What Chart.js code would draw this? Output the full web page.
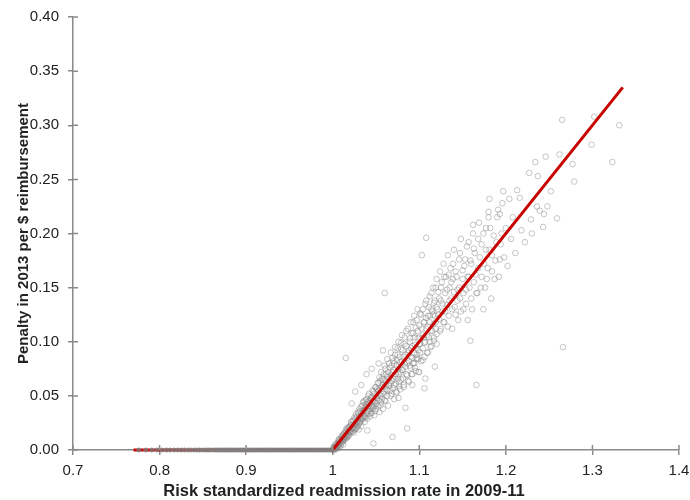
<!DOCTYPE html>
<html>
<head>
<meta charset="utf-8">
<script src="https://cdn.jsdelivr.net/npm/chart.js@4/dist/chart.umd.min.js"></script>
<style>
    html, body { margin: 0; padding: 0; background: #fff; }
    #wrap { width: 690px; height: 500px; }
</style>
</head>
<body>
<div id="wrap"><canvas id="penalty-chart"></canvas></div>
<script>
// Axis ticks
const rateTicks = [0.7, 0.8, 0.9, 1.0, 1.1, 1.2, 1.3, 1.4];
const penaltyTicks = [0, 0.05, 0.10, 0.15, 0.20, 0.25, 0.30, 0.35, 0.40];

// Penalty formula line (red)
const lineRates = [0.77, 1.0, 1.335];
const linePenalties = [0, 0, 0.335];

// Hospitals below 1.0 - no penalty
const zeroRates = [
    0.776, 0.784, 0.791, 0.797, 0.803, 0.808, 0.812, 0.817, 0.821, 0.825,
    0.829, 0.833, 0.836, 0.840, 0.843, 0.846, 0.849, 0.852, 0.855, 0.857,
    0.860, 0.863, 0.865, 0.867, 0.869, 0.871, 0.873, 0.875, 0.877, 0.879,
    0.881, 0.883, 0.885, 0.887, 0.889, 0.891, 0.893, 0.895, 0.897, 0.899,
    0.901, 0.903, 0.905, 0.907, 0.909, 0.911, 0.913, 0.915, 0.917, 0.919,
    0.921, 0.923, 0.925, 0.927, 0.929, 0.931, 0.933, 0.935, 0.937, 0.939,
    0.941, 0.943, 0.945, 0.947, 0.949, 0.951, 0.953, 0.955, 0.957, 0.959,
    0.961, 0.963, 0.965, 0.967, 0.969, 0.971, 0.973, 0.975, 0.977, 0.979,
    0.981, 0.983, 0.985, 0.987, 0.989, 0.991, 0.993, 0.995, 0.997, 0.999
];

// Hospitals above 1.0 - readmission rate / penalty pairs
const rates = [
    // 1.00 - 1.03
    1.001, 1.002, 1.003, 1.004, 1.005, 1.006, 1.006, 1.007, 1.008, 1.009,
    1.009, 1.010, 1.011, 1.011, 1.012, 1.013, 1.013, 1.014, 1.015, 1.015,
    1.016, 1.017, 1.017, 1.018, 1.018, 1.019, 1.020, 1.020, 1.004, 1.008,
    1.012, 1.016, 1.015,
    1.000, 1.001, 1.002, 1.003, 1.003, 1.004, 1.005, 1.005, 1.006, 1.007,
    1.007, 1.008, 1.009, 1.010, 1.010, 1.011, 1.012, 1.012, 1.013, 1.014,
    1.014, 1.015, 1.016, 1.016, 1.017, 1.018, 1.019, 1.019, 1.020, 1.021,
    1.021, 1.022, 1.023, 1.024, 1.024, 1.025, 1.026, 1.026, 1.027, 1.028,
    1.028, 1.029, 1.030, 1.030, 1.030, 1.022, 1.026, 1.033,
    // 1.02 - 1.05
    1.021, 1.022, 1.023, 1.023, 1.024, 1.025, 1.025, 1.026, 1.027, 1.027,
    1.028, 1.029, 1.029, 1.030, 1.031, 1.031, 1.032, 1.033, 1.033, 1.034,
    1.035, 1.035, 1.036, 1.037, 1.037, 1.038, 1.039, 1.039, 1.040, 1.040,
    1.041, 1.042, 1.042, 1.043, 1.044, 1.044, 1.045, 1.046, 1.046, 1.047,
    1.047, 1.048, 1.048, 1.049, 1.050, 1.050,
    1.031, 1.032, 1.032, 1.033, 1.034, 1.034, 1.035, 1.036, 1.036, 1.037,
    1.038, 1.038, 1.039, 1.040, 1.040, 1.041, 1.041, 1.042, 1.043, 1.043,
    1.044, 1.045, 1.045, 1.046, 1.047, 1.047, 1.048, 1.049, 1.049, 1.050,
    1.039, 1.045, 1.053, 1.058,
    // 1.05 - 1.10
    1.051, 1.052, 1.052, 1.053, 1.054, 1.054, 1.055, 1.056, 1.056, 1.057,
    1.058, 1.058, 1.059, 1.060, 1.060, 1.061, 1.061, 1.062, 1.063, 1.063,
    1.064, 1.065, 1.065, 1.066, 1.067, 1.067, 1.068, 1.069, 1.069, 1.070,
    1.070, 1.071, 1.072, 1.072, 1.073, 1.074, 1.074, 1.075, 1.076, 1.076,
    1.077, 1.078, 1.078, 1.079, 1.080, 1.080, 1.081, 1.082, 1.082, 1.083,
    1.084, 1.084, 1.085, 1.086, 1.086, 1.087, 1.088, 1.088, 1.089, 1.090,
    1.090, 1.091, 1.092, 1.092, 1.093, 1.094, 1.094, 1.095, 1.096, 1.096,
    1.097, 1.098, 1.098, 1.099, 1.100, 1.100,
    1.051, 1.051, 1.052, 1.053, 1.053, 1.054, 1.055, 1.055, 1.056, 1.057,
    1.057, 1.058, 1.059, 1.059, 1.060, 1.061, 1.061, 1.062, 1.063, 1.063,
    1.064, 1.065, 1.065, 1.066, 1.067, 1.067, 1.068, 1.068, 1.069, 1.070,
    1.070, 1.071, 1.071, 1.072, 1.073, 1.073, 1.074, 1.075, 1.075, 1.076,
    1.077, 1.077, 1.078, 1.079, 1.079, 1.080, 1.081, 1.081, 1.082, 1.083,
    1.083, 1.084, 1.085, 1.085, 1.086, 1.087, 1.087, 1.088, 1.089, 1.089,
    1.090, 1.091, 1.091, 1.092, 1.093, 1.093, 1.094, 1.095, 1.095, 1.096,
    1.097, 1.097, 1.098, 1.099, 1.099, 1.100, 1.076, 1.097, 1.092,
    // 1.10 - 1.15
    1.101, 1.102, 1.103, 1.104, 1.104, 1.105, 1.106, 1.106, 1.107, 1.108,
    1.108, 1.109, 1.110, 1.111, 1.112, 1.112, 1.113, 1.114, 1.115, 1.116,
    1.116, 1.117, 1.118, 1.119, 1.120, 1.120, 1.121, 1.122, 1.123, 1.124,
    1.125, 1.125, 1.126, 1.127, 1.128, 1.129, 1.130, 1.131, 1.132, 1.133,
    1.134, 1.135, 1.136, 1.137, 1.138, 1.139, 1.140, 1.141, 1.142, 1.144,
    1.145, 1.146, 1.147, 1.148, 1.150,
    1.101, 1.101, 1.102, 1.103, 1.104, 1.104, 1.105, 1.106, 1.106, 1.107,
    1.108, 1.108, 1.109, 1.110, 1.110, 1.111, 1.112, 1.112, 1.113, 1.114,
    1.114, 1.115, 1.116, 1.117, 1.117, 1.118, 1.119, 1.119, 1.120, 1.120,
    1.107, 1.118, 1.100,
    1.122, 1.123, 1.124, 1.125, 1.127, 1.128, 1.129, 1.130, 1.132, 1.133,
    1.134, 1.135, 1.137, 1.138, 1.139, 1.140, 1.142, 1.143, 1.144, 1.146,
    1.147, 1.148, 1.150,
    // 1.15 - 1.20
    1.151, 1.152, 1.154, 1.155, 1.156, 1.157, 1.159, 1.159, 1.160, 1.162,
    1.163, 1.164, 1.166, 1.166, 1.168, 1.169, 1.171, 1.172, 1.174, 1.175,
    1.177, 1.178, 1.180, 1.181, 1.183, 1.184, 1.186, 1.188, 1.190, 1.192,
    1.194, 1.196, 1.198, 1.200, 1.181, 1.197, 1.180, 1.193, 1.162,
    1.151, 1.153, 1.154, 1.156, 1.157, 1.158, 1.160, 1.161, 1.163, 1.165,
    1.167, 1.168, 1.170, 1.172, 1.174, 1.176, 1.177, 1.179, 1.182, 1.184,
    1.187, 1.189, 1.191, 1.193, 1.195,
    // 1.20 - 1.34
    1.202, 1.204, 1.206, 1.208, 1.211, 1.213, 1.216, 1.218, 1.222, 1.227,
    1.229, 1.230, 1.234, 1.236, 1.237, 1.239, 1.243, 1.244, 1.246, 1.248,
    1.252, 1.259, 1.262, 1.265, 1.266, 1.277, 1.279, 1.299, 1.302, 1.323,
    1.331
];
const penalties = [
    // 1.00 - 1.03
    0.001, 0.003, 0.002, 0.005, 0.003, 0.007, 0.004, 0.009, 0.006, 0.010,
    0.007, 0.012, 0.008, 0.013, 0.010, 0.015, 0.011, 0.012, 0.018, 0.014,
    0.011, 0.019, 0.015, 0.013, 0.021, 0.017, 0.022, 0.016, 0.001, 0.002,
    0.005, 0.020, 0.085,
    0.000, 0.003, 0.000, 0.005, 0.001, 0.003, 0.006, 0.002, 0.005, 0.004,
    0.010, 0.008, 0.004, 0.009, 0.006, 0.011, 0.014, 0.008, 0.009, 0.016,
    0.010, 0.012, 0.017, 0.013, 0.012, 0.017, 0.021, 0.014, 0.019, 0.017,
    0.026, 0.023, 0.017, 0.027, 0.021, 0.019, 0.029, 0.024, 0.020, 0.031,
    0.026, 0.022, 0.034, 0.027, 0.019, 0.043, 0.054, 0.060,
    // 1.02 - 1.05
    0.024, 0.018, 0.027, 0.020, 0.016, 0.030, 0.023, 0.019, 0.033, 0.025,
    0.021, 0.035, 0.028, 0.024, 0.038, 0.031, 0.026, 0.022, 0.040, 0.034,
    0.029, 0.044, 0.037, 0.031, 0.026, 0.046, 0.040, 0.034, 0.029, 0.018,
    0.050, 0.043, 0.036, 0.031, 0.048, 0.040, 0.034, 0.055, 0.046, 0.039,
    0.006, 0.032, 0.052, 0.044, 0.058, 0.038,
    0.025, 0.036, 0.030, 0.028, 0.041, 0.029, 0.036, 0.031, 0.045, 0.039,
    0.030, 0.042, 0.047, 0.036, 0.044, 0.033, 0.040, 0.052, 0.038, 0.046,
    0.034, 0.049, 0.041, 0.038, 0.054, 0.045, 0.041, 0.058, 0.036, 0.049,
    0.070, 0.075, 0.080, 0.092,
    // 1.05 - 1.10
    0.048, 0.062, 0.041, 0.055, 0.035, 0.067, 0.050, 0.044, 0.072, 0.058,
    0.038, 0.065, 0.052, 0.078, 0.145, 0.060, 0.045, 0.070, 0.055, 0.084,
    0.041, 0.066, 0.059, 0.076, 0.050, 0.090, 0.064, 0.012, 0.072, 0.057,
    0.082, 0.047, 0.068, 0.095, 0.061, 0.078, 0.053, 0.088, 0.070, 0.100,
    0.063, 0.081, 0.056, 0.093, 0.074, 0.106, 0.066, 0.086, 0.060, 0.098,
    0.039, 0.077, 0.110, 0.069, 0.020, 0.090, 0.082, 0.063, 0.103, 0.076,
    0.118, 0.094, 0.070, 0.085, 0.108, 0.080, 0.124, 0.097, 0.073, 0.113,
    0.088, 0.103, 0.130, 0.084, 0.098, 0.115,
    0.043, 0.056, 0.050, 0.062, 0.046, 0.057, 0.041, 0.064, 0.052, 0.066,
    0.047, 0.060, 0.054, 0.070, 0.046, 0.064, 0.075, 0.056, 0.068, 0.050,
    0.072, 0.061, 0.080, 0.055, 0.069, 0.062, 0.078, 0.052, 0.085, 0.066,
    0.074, 0.080, 0.060, 0.088, 0.070, 0.054, 0.083, 0.066, 0.094, 0.075,
    0.059, 0.086, 0.072, 0.099, 0.065, 0.082, 0.074, 0.092, 0.058, 0.080,
    0.104, 0.088, 0.070, 0.096, 0.080, 0.112, 0.064, 0.092, 0.078, 0.100,
    0.086, 0.070, 0.108, 0.096, 0.080, 0.118, 0.090, 0.104, 0.076, 0.094,
    0.120, 0.084, 0.110, 0.092, 0.072, 0.104, 0.048, 0.085, 0.060,
    // 1.10 - 1.15
    0.090, 0.125, 0.180, 0.106, 0.083, 0.118, 0.057, 0.099, 0.135, 0.196,
    0.112, 0.090, 0.124, 0.104, 0.142, 0.118, 0.095, 0.130, 0.110, 0.150,
    0.125, 0.101, 0.138, 0.118, 0.158, 0.107, 0.130, 0.146, 0.121, 0.165,
    0.112, 0.138, 0.155, 0.128, 0.172, 0.118, 0.145, 0.160, 0.134, 0.180,
    0.124, 0.150, 0.168, 0.140, 0.112, 0.158, 0.185, 0.132, 0.165, 0.148,
    0.120, 0.176, 0.140, 0.195, 0.158,
    0.126, 0.098, 0.082, 0.112, 0.094, 0.130, 0.104, 0.086, 0.118, 0.100,
    0.138, 0.122, 0.106, 0.090, 0.114, 0.132, 0.100, 0.124, 0.110, 0.145,
    0.096, 0.128, 0.116, 0.136, 0.104, 0.124, 0.150, 0.112, 0.132, 0.098,
    0.066, 0.077, 0.072,
    0.125, 0.140, 0.110, 0.150, 0.135, 0.118, 0.160, 0.128, 0.148, 0.114,
    0.162, 0.138, 0.155, 0.130, 0.172, 0.146, 0.125, 0.160, 0.138, 0.150,
    0.182, 0.128, 0.166,
    // 1.15 - 1.20
    0.130, 0.170, 0.148, 0.188, 0.120, 0.160, 0.101, 0.175, 0.140, 0.200,
    0.155, 0.182, 0.060, 0.145, 0.168, 0.210, 0.150, 0.190, 0.130, 0.172,
    0.205, 0.158, 0.220, 0.185, 0.140, 0.165, 0.198, 0.175, 0.215, 0.160,
    0.190, 0.228, 0.178, 0.205, 0.232, 0.239, 0.215, 0.218, 0.208,
    0.145, 0.176, 0.135, 0.160, 0.192, 0.150, 0.172, 0.130, 0.186, 0.162,
    0.145, 0.195, 0.178, 0.160, 0.200, 0.150, 0.185, 0.168, 0.205, 0.180,
    0.158, 0.192, 0.222, 0.176, 0.200,
    // 1.20 - 1.34
    0.170, 0.232, 0.195, 0.215, 0.182, 0.240, 0.233, 0.203, 0.192, 0.256,
    0.213, 0.200, 0.266, 0.225, 0.253, 0.221, 0.206, 0.218, 0.271, 0.225,
    0.239, 0.214, 0.273, 0.305, 0.095, 0.264, 0.248, 0.282, 0.308, 0.266,
    0.300
];

// Draw the inner half of the tick marks so they cross the axis lines
const crossTicks = {
    id: 'crossTicks',
    afterDraw(chart) {
        const c = chart.ctx;
        const area = chart.chartArea;
        const xs = chart.scales.x;
        const ys = chart.scales.y;
        c.save();
        c.strokeStyle = '#8a8a8a';
        c.lineWidth = 1.5;
        c.beginPath();
        xs.ticks.forEach(t => {
            const px = xs.getPixelForValue(t.value);
            c.moveTo(px, area.bottom);
            c.lineTo(px, area.bottom - 5);
        });
        ys.ticks.forEach(t => {
            const py = ys.getPixelForValue(t.value);
            c.moveTo(area.left, py);
            c.lineTo(area.left + 5, py);
        });
        c.stroke();
        c.restore();
    }
};

const fontFamily = 'Liberation Sans, Arial, sans-serif';
const ctx = document.getElementById('penalty-chart');

new Chart(ctx, {
    type: 'scatter',
    data: {
        datasets: [
            {
                label: 'No penalty',
                data: zeroRates.map(x => ({ x: x, y: 0 })),
                pointRadius: 2,
                borderWidth: 1,
                borderColor: 'rgba(128, 128, 128, 0.8)',
                backgroundColor: 'rgba(128, 128, 128, 0.7)',
                clip: false,
                order: 0
            },
            {
                label: 'Penalty formula',
                type: 'line',
                data: lineRates.map((x, i) => ({ x: x, y: linePenalties[i] })),
                borderColor: '#c80000',
                borderWidth: 3,
                pointRadius: 0,
                fill: false,
                tension: 0,
                clip: false,
                order: 1
            },
            {
                label: 'Hospitals',
                data: rates.map((x, i) => ({ x: x, y: penalties[i] })),
                pointRadius: 2.8,
                borderWidth: 1,
                borderColor: 'rgba(128, 128, 128, 0.45)',
                backgroundColor: 'rgba(255, 255, 255, 0)',
                clip: false,
                order: 2
            }
        ]
    },
    options: {
        responsive: true,
        maintainAspectRatio: false,
        animation: false,
        layout: {
            padding: { top: 17, right: 11, bottom: 0, left: 0 }
        },
        scales: {
            x: {
                type: 'linear',
                min: 0.7,
                max: 1.4,
                afterBuildTicks: scale => {
                    scale.ticks = rateTicks.map(v => ({ value: v }));
                },
                afterFit: scale => {
                    scale.height = 50;
                    scale.paddingLeft = 0;
                    scale.paddingRight = 0;
                },
                border: { display: true, color: '#8a8a8a', width: 1.5 },
                grid: {
                    drawOnChartArea: false,
                    drawTicks: true,
                    tickLength: 5,
                    color: '#8a8a8a',
                    lineWidth: 1.5
                },
                ticks: {
                    padding: 7,
                    color: '#222',
                    font: { family: fontFamily, size: 15 },
                    callback: v => String(Number(v.toFixed(1)))
                },
                title: {
                    display: true,
                    // trailing spaces push the centred title left, as in the original
                    text: 'Risk standardized readmission rate in 2009-11              ',
                    color: '#222',
                    padding: { top: 0, bottom: 0 },
                    font: { family: fontFamily, size: 16.5, weight: 'bold', lineHeight: 1 }
                }
            },
            y: {
                type: 'linear',
                min: 0,
                max: 0.4,
                afterBuildTicks: scale => {
                    scale.ticks = penaltyTicks.map(v => ({ value: v }));
                },
                afterFit: scale => {
                    scale.width = 73;
                    scale.paddingTop = 0;
                    scale.paddingBottom = 0;
                },
                border: { display: true, color: '#8a8a8a', width: 1.5 },
                grid: {
                    drawOnChartArea: false,
                    drawTicks: true,
                    tickLength: 5,
                    color: '#8a8a8a',
                    lineWidth: 1.5
                },
                ticks: {
                    padding: 9,
                    color: '#222',
                    font: { family: fontFamily, size: 15 },
                    callback: v => v.toFixed(2)
                },
                title: {
                    display: true,
                    text: 'Penalty in 2013 per $ reimbursement',
                    color: '#222',
                    padding: { top: 15, bottom: 0 },
                    font: { family: fontFamily, size: 15, weight: 'bold', lineHeight: 1.2 }
                }
            }
        },
        plugins: {
            legend: { display: false },
            tooltip: { enabled: false },
            title: { display: false }
        }
    },
    plugins: [crossTicks]
});
</script>
</body>
</html>
